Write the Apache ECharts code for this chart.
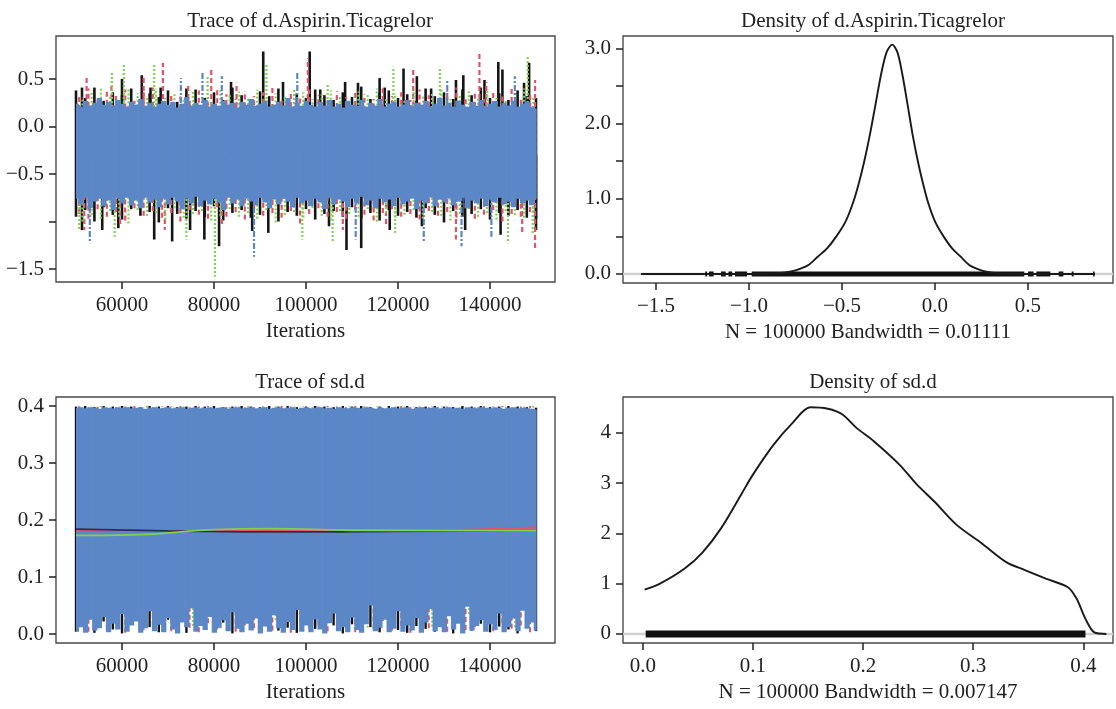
<!DOCTYPE html>
<html><head><meta charset="utf-8">
<script src="https://cdn.jsdelivr.net/npm/echarts@6/dist/echarts.min.js"></script>
<style>html,body{margin:0;padding:0;background:#fff}#c{width:1116px;height:709px}</style>
</head><body><div id="c"></div>
<script>
// ---------- DATA ----------
const ITER_FIRST = 50000, ITER_LAST = 150000, BLUE_STEP = 1000, CHAIN_STEP = 2000;
const chainStart = { black: 50000, red: 50700, green: 51400 };
const traceTicksX = [60000, 80000, 100000, 120000, 140000];

// Trace of d.Aspirin.Ticagrelor : blue chain envelope (every 1000 iterations)
const blueHi1 = [0.24,0.21,0.27,0.22,0.25,0.30,0.23,0.26,0.22,0.28,0.24,0.21,0.26,0.23,0.29,0.22,0.25,0.21,0.24,0.27,0.23,0.26,0.20,0.24,0.31,0.22,0.25,0.23,0.28,0.21,0.24,0.22,0.27,0.23,0.25,0.20,0.26,0.23,0.29,0.22,0.24,0.27,0.21,0.23,0.26,0.22,0.30,0.21,0.25,0.22,0.27,0.23,0.21,0.26,0.22,0.28,0.21,0.24,0.20,0.27,0.23,0.22,0.28,0.21,0.25,0.22,0.29,0.21,0.24,0.26,0.21,0.23,0.28,0.22,0.25,0.23,0.27,0.21,0.24,0.30,0.22,0.25,0.21,0.27,0.23,0.21,0.26,0.22,0.28,0.21,0.24,0.27,0.21,0.25,0.22,0.27,0.21,0.24,0.26,0.21,0.19];
const blueLo1 = [-0.76,-0.82,-0.75,-0.86,-0.79,-0.76,-0.84,-0.78,-0.88,-0.76,-0.81,-0.75,-0.83,-0.78,-0.86,-0.75,-0.80,-0.77,-0.85,-0.76,-0.82,-0.75,-0.79,-0.87,-0.76,-0.81,-0.74,-0.84,-0.78,-0.82,-0.76,-0.80,-0.88,-0.75,-0.81,-0.77,-0.84,-0.76,-0.79,-0.83,-0.75,-0.80,-0.86,-0.77,-0.82,-0.76,-0.79,-0.85,-0.75,-0.81,-0.78,-0.84,-0.76,-0.80,-0.87,-0.75,-0.82,-0.77,-0.79,-0.85,-0.76,-0.81,-0.74,-0.83,-0.78,-0.86,-0.76,-0.80,-0.77,-0.84,-0.75,-0.82,-0.79,-0.76,-0.87,-0.78,-0.81,-0.75,-0.84,-0.77,-0.80,-0.76,-0.83,-0.79,-0.75,-0.86,-0.78,-0.81,-0.76,-0.84,-0.77,-0.80,-0.75,-0.82,-0.79,-0.85,-0.76,-0.81,-0.78,-0.83,-0.76];
// other chains (every 2000 iterations)
const blackHi1 = [0.38,0.30,0.41,0.27,0.36,0.33,0.40,0.29,0.35,0.31,0.38,0.26,0.34,0.39,0.30,0.36,0.28,0.41,0.33,0.29,0.37,0.32,0.40,0.27,0.35,0.30,0.39,0.33,0.28,0.36,0.31,0.42,0.29,0.35,0.38,0.30,0.34,0.27,0.40,0.32,0.36,0.29,0.39,0.33,0.41,0.30,0.35,0.28,0.38,0.32,0.30];
const blackLo1 = [-0.95,-0.88,-1.00,-0.85,-0.93,-0.98,-0.87,-0.94,-0.90,-1.01,-0.86,-0.92,-0.97,-0.89,-0.95,-0.84,-0.99,-0.91,-0.88,-0.96,-0.93,-0.86,-1.00,-0.90,-0.94,-0.87,-0.98,-0.92,-0.89,-0.95,-0.85,-0.97,-0.91,-0.99,-0.88,-0.94,-0.90,-0.96,-0.86,-0.93,-1.01,-0.89,-0.95,-0.92,-0.87,-0.98,-0.91,-0.94,-0.88,-0.96,-0.97];
const redHi1 = [0.34,0.40,0.29,0.37,0.32,0.39,0.27,0.36,0.41,0.30,0.35,0.33,0.28,0.38,0.31,0.40,0.34,0.29,0.37,0.32,0.36,0.41,0.28,0.35,0.30,0.39,0.33,0.27,0.37,0.31,0.38,0.34,0.29,0.40,0.32,0.36,0.28,0.39,0.33,0.30,0.37,0.41,0.31,0.35,0.29,0.38,0.34,0.40,0.30,0.36,0.42];
const redLo1 = [-0.92,-0.97,-0.87,-0.95,-0.90,-0.99,-0.86,-0.94,-0.89,-0.96,-0.91,-1.00,-0.88,-0.93,-0.97,-0.85,-0.95,-0.90,-0.98,-0.87,-0.94,-0.91,-0.96,-0.89,-1.02,-0.92,-0.86,-0.95,-0.90,-0.97,-0.88,-0.93,-0.99,-0.91,-0.87,-0.95,-0.92,-0.98,-0.89,-0.94,-0.90,-0.96,-0.86,-0.97,-0.93,-0.88,-1.00,-0.92,-0.95,-0.90,-0.99];
const greenHi1 = [0.31,0.37,0.42,0.33,0.28,0.39,0.35,0.30,0.40,0.32,0.36,0.29,0.38,0.34,0.27,0.41,0.33,0.37,0.30,0.39,0.28,0.35,0.32,0.40,0.36,0.29,0.34,0.38,0.31,0.27,0.37,0.33,0.40,0.30,0.35,0.28,0.39,0.32,0.36,0.41,0.29,0.34,0.37,0.31,0.38,0.33,0.27,0.36,0.40,0.32,0.35];
const greenLo1 = [-1.00,-0.93,-0.97,-0.89,-0.95,-1.02,-0.88,-0.94,-0.91,-0.98,-0.86,-0.96,-0.92,-0.89,-0.99,-0.94,-0.87,-0.95,-0.91,-0.97,-0.88,-1.01,-0.93,-0.90,-0.96,-0.86,-0.94,-0.98,-0.89,-0.92,-0.95,-0.87,-1.00,-0.91,-0.96,-0.93,-0.88,-0.97,-0.90,-0.94,-0.99,-0.92,-0.87,-0.95,-0.91,-0.98,-0.89,-0.93,-0.96,-0.90,-1.01];
// spike tips [iteration, value]
const traceCenter1 = -0.3;
const spikesBlack1 = [[51300,0.41],[60000,0.50],[64300,0.54],[66200,0.41],[68400,0.41],[74000,0.40],[83700,0.47],[90700,0.79],[95000,0.47],[100800,0.79],[103100,0.39],[108500,0.47],[111300,0.46],[116000,0.51],[117100,0.41],[121200,0.61],[124100,0.53],[127200,0.40],[132600,0.49],[134200,0.54],[138800,0.49],[141800,0.68],[142700,0.60],[147400,0.46],[148500,0.67],
  [51300,-1.09],[55700,-1.09],[59200,-1.07],[67000,-1.19],[70900,-1.21],[74800,-1.09],[77900,-1.19],[81100,-1.26],[88300,-1.10],[91800,-1.12],[105000,-1.05],[108800,-1.30],[112000,-1.28],[118200,-1.09],[125200,-1.05],[134600,-1.09],[142300,-1.14],[150000,-1.09]];
const spikesRed1 = [[52300,0.53],[57700,0.46],[64700,0.51],[68900,0.67],[74400,0.44],[79400,0.60],[84900,0.46],[100400,0.72],[123300,0.61],[137700,0.79],[139200,0.47],[149800,0.49],
  [51800,-1.09],[59600,-1.05],[69300,-1.09],[81700,-1.05],[108000,-1.09],[117400,-1.05],[132600,-1.19],[147000,-1.12],[149800,-1.28]];
const spikesGreen1 = [[57800,0.58],[60400,0.65],[67000,0.65],[78600,0.54],[91400,0.67],[104700,0.44],[119000,0.63],[129100,0.63],[148200,0.74],
  [50700,-1.09],[58400,-1.16],[74000,-1.19],[80200,-1.58],[99200,-1.19],[105800,-1.21],[119400,-1.12],[143900,-1.23],[149300,-1.14]];
const spikesBlue1 = [[72800,0.51],[77500,0.58],[81700,0.53],[98100,0.58],[130700,0.49],[145400,0.53],
  [53000,-1.23],[88700,-1.37],[110800,-1.19],[125600,-1.21],[133800,-1.26],[140300,-1.16]];

// Trace of sd.d
const blueHi3 = [0.397,0.398,0.396,0.398,0.397,0.395,0.398,0.397,0.396,0.398,0.397,0.398,0.396,0.397,0.398,0.395,0.397,0.398,0.396,0.397,0.398,0.396,0.397,0.398,0.395,0.397,0.398,0.396,0.397,0.398,0.396,0.397,0.398,0.395,0.397,0.398,0.396,0.397,0.398,0.396,0.397,0.398,0.395,0.397,0.398,0.396,0.397,0.398,0.395,0.397,0.398,0.396,0.397,0.398,0.396,0.397,0.395,0.398,0.397,0.396,0.398,0.397,0.396,0.398,0.397,0.395,0.398,0.396,0.397,0.398,0.396,0.397,0.398,0.395,0.397,0.398,0.396,0.397,0.398,0.396,0.397,0.398,0.396,0.397,0.395,0.398,0.397,0.396,0.398,0.397,0.396,0.398,0.397,0.395,0.397,0.398,0.396,0.397,0.396,0.395,0.394];
const blueLo3 = [0.004,0.012,0.002,0.025,0.006,0.01,0.03,0.003,0.018,0.008,0.035,0.004,0.015,0.022,0.002,0.01,0.04,0.005,0.016,0.003,0.028,0.008,0.001,0.02,0.012,0.045,0.004,0.014,0.007,0.03,0.002,0.011,0.024,0.005,0.038,0.009,0.003,0.018,0.006,0.027,0.001,0.013,0.004,0.033,0.01,0.002,0.021,0.007,0.042,0.004,0.015,0.003,0.026,0.008,0.001,0.019,0.036,0.005,0.012,0.003,0.029,0.007,0.002,0.017,0.05,0.005,0.011,0.025,0.003,0.009,0.04,0.004,0.015,0.006,0.028,0.002,0.02,0.044,0.005,0.012,0.003,0.031,0.008,0.018,0.001,0.048,0.006,0.014,0.024,0.004,0.017,0.007,0.036,0.003,0.012,0.027,0.005,0.041,0.009,0.02,0.006];
const blackHi3 = [0.399,0.400,0.398,0.400,0.399,0.400,0.399,0.398,0.400,0.399,0.400,0.398,0.399,0.400,0.399,0.400,0.398,0.399,0.400,0.399,0.398,0.400,0.399,0.400,0.398,0.399,0.400,0.399,0.398,0.400,0.399,0.400,0.398,0.399,0.400,0.399,0.400,0.398,0.399,0.400,0.399,0.398,0.400,0.399,0.400,0.398,0.399,0.400,0.399,0.398,0.397];
const blackLo3 = [0.004,0.015,0.002,0.022,0.008,0.001,0.018,0.006,0.012,0.003,0.025,0.007,0.002,0.016,0.01,0.004,0.02,0.001,0.013,0.008,0.003,0.019,0.006,0.011,0.002,0.024,0.009,0.004,0.015,0.001,0.017,0.005,0.012,0.003,0.021,0.007,0.002,0.014,0.009,0.004,0.02,0.001,0.011,0.006,0.018,0.003,0.013,0.008,0.001,0.016,0.005];
const redHi3 = [0.400,0.398,0.399,0.400,0.398,0.399,0.400,0.399,0.398,0.400,0.399,0.400,0.398,0.399,0.400,0.398,0.400,0.399,0.398,0.400,0.399,0.398,0.400,0.399,0.400,0.398,0.399,0.400,0.399,0.398,0.400,0.399,0.398,0.400,0.399,0.400,0.398,0.399,0.400,0.398,0.399,0.400,0.399,0.398,0.400,0.399,0.400,0.398,0.399,0.400,0.399];
const redLo3 = [0.012,0.004,0.025,0.009,0.017,0.002,0.03,0.007,0.014,0.02,0.005,0.028,0.011,0.003,0.019,0.008,0.024,0.004,0.015,0.01,0.027,0.006,0.013,0.002,0.021,0.009,0.016,0.005,0.029,0.011,0.003,0.018,0.008,0.023,0.006,0.014,0.002,0.026,0.01,0.017,0.004,0.022,0.007,0.012,0.028,0.005,0.019,0.009,0.015,0.003,0.02];
const greenHi3 = [0.390,0.399,0.400,0.398,0.399,0.400,0.398,0.400,0.399,0.398,0.400,0.399,0.398,0.400,0.399,0.398,0.400,0.399,0.400,0.398,0.399,0.400,0.398,0.399,0.400,0.399,0.398,0.400,0.399,0.400,0.398,0.399,0.400,0.398,0.399,0.400,0.399,0.398,0.400,0.399,0.398,0.400,0.399,0.400,0.398,0.399,0.400,0.398,0.399,0.400,0.398];
const greenLo3 = [0.02,0.038,0.012,0.05,0.026,0.016,0.055,0.032,0.009,0.044,0.022,0.06,0.014,0.036,0.048,0.01,0.03,0.052,0.018,0.04,0.065,0.024,0.012,0.046,0.034,0.058,0.015,0.028,0.05,0.02,0.042,0.011,0.062,0.026,0.038,0.017,0.054,0.03,0.013,0.047,0.068,0.022,0.035,0.016,0.056,0.028,0.044,0.012,0.052,0.025,0.04];
// thin per-chain lines near 0.18
const meanBlack3 = [[50000,0.184],[70000,0.181],[95000,0.179],[120000,0.180],[150000,0.181]];
const meanRed3 = [[50000,0.182],[68000,0.181],[90000,0.183],[125000,0.181],[140000,0.184],[150000,0.187]];
const meanGreen3 = [[50000,0.173],[62000,0.174],[80000,0.183],[92000,0.185],[110000,0.182],[150000,0.181]];

// Density of d.Aspirin.Ticagrelor
const dens2X = [-1.58,-1.03,-0.93,-0.83,-0.78,-0.73,-0.68,-0.63,-0.58,-0.53,-0.48,-0.44,-0.41,-0.38,-0.35,-0.32,-0.29,-0.26,-0.23,-0.202,-0.175,-0.147,-0.120,-0.092,-0.064,-0.037,0.0,0.046,0.092,0.138,0.184,0.23,0.276,0.322,0.414,0.506,0.86];
const dens2Y = [0,0.0005,0.003,0.013,0.03,0.065,0.12,0.23,0.34,0.5,0.7,0.95,1.2,1.5,1.85,2.25,2.65,2.95,3.05,2.95,2.65,2.25,1.85,1.5,1.2,0.95,0.7,0.5,0.34,0.23,0.12,0.065,0.03,0.013,0.003,0.0005,0];
const rug2 = [[-1.235,-1.225],[-1.215,-1.19],[-1.15,-1.125],[-1.11,-1.09],[-1.075,-1.01],[-0.985,0.48],[0.50,0.53],[0.545,0.62],[0.665,0.69],[0.735,0.745],[0.85,0.858]];
// Density of sd.d
const dens4X = [0.0016,0.0156,0.038,0.0545,0.071,0.09,0.1,0.119,0.136,0.152,0.168,0.181,0.194,0.21,0.233,0.249,0.265,0.285,0.308,0.33,0.347,0.366,0.386,0.394,0.402,0.41,0.421];
const dens4Y = [0.88,1.0,1.3,1.63,2.1,2.8,3.17,3.77,4.2,4.51,4.48,4.37,4.1,3.83,3.37,2.97,2.63,2.17,1.8,1.43,1.27,1.1,0.93,0.7,0.3,0.03,0];
const rug4 = [[0.0026,0.402]];

// axis extents and ticks
const X1 = [45650, 154130], Y1 = [-1.637, 0.953];
const X2 = [-1.677, 0.957], Y2 = [-0.12, 3.165];
const Y3 = [-0.0158, 0.4158];
const X4 = [-0.018, 0.427], Y4 = [-0.18, 4.714];

// ---------- CHART ----------
const FONT = "'Liberation Serif','DejaVu Serif',serif";
const FS = 21;
const COL = { black: '#151515', red: '#df536b', green: '#7fd150', blue: '#5b87c7' };
const chart = echarts.init(document.getElementById('c'), null, { renderer: 'canvas' });

function minus(s) { return s.replace('-', '\u2212'); }
const f1 = v => minus((+v).toFixed(1));
function chainData(start, step, lo, hi) {
  const out = [];
  lo.forEach((l, i) => { const x = start + i * step; if (x <= ITER_LAST) out.push([x, l, hi[i]]); });
  return out;
}
function spikeData(sp, base) { return sp.map(s => [s[0], base, s[1]]); }

function segSeries(gi, data, color, width, dash) {
  return { type: 'custom', xAxisIndex: gi, yAxisIndex: gi, data, encode: { x: 0, y: [1, 2] }, clip: true, silent: true,
    renderItem: (p, api) => {
      const x = api.value(0);
      const a = api.coord([x, api.value(1)]), b = api.coord([x, api.value(2)]);
      return { type: 'line', shape: { x1: a[0], y1: a[1], x2: b[0], y2: b[1] },
        style: { stroke: color, lineWidth: width, lineDash: dash || null } };
    } };
}
function bandSeries(gi, data, color, step) {
  return { type: 'custom', xAxisIndex: gi, yAxisIndex: gi, data, encode: { x: 0, y: [1, 2] }, clip: true, silent: true,
    renderItem: (p, api) => {
      const x = api.value(0);
      const x0 = Math.max(x - step / 2, ITER_FIRST), x1 = Math.min(x + step / 2, ITER_LAST);
      const a = api.coord([x0, api.value(2)]), b = api.coord([x1, api.value(1)]);
      return { type: 'rect', shape: { x: a[0], y: a[1], width: b[0] - a[0] + 0.7, height: b[1] - a[1] }, style: { fill: color } };
    } };
}
function rugSeries(gi, data, h) {
  return { type: 'custom', xAxisIndex: gi, yAxisIndex: gi, data, encode: { x: [0, 1] }, clip: true, silent: true,
    renderItem: (p, api) => {
      const a = api.coord([api.value(0), 0]), b = api.coord([api.value(1), 0]);
      return { type: 'rect', shape: { x: a[0], y: a[1] - h / 2, width: Math.max(b[0] - a[0], 1.3), height: h }, style: { fill: '#111' } };
    } };
}
function lineSeries(gi, data, color, width, z, smooth) {
  return { type: 'line', xAxisIndex: gi, yAxisIndex: gi, data, showSymbol: false, silent: true, z: z || 3,
    smooth: smooth === undefined ? 0.3 : smooth, lineStyle: { color, width } };
}
function xAx(gi, ext, ticks, fmt, name) {
  return { type: 'value', gridIndex: gi, min: ext[0], max: ext[1],
    axisLine: { show: false, onZero: false },
    axisTick: { show: true, length: 7, lineStyle: { color: '#222', width: 1.5 }, customValues: ticks },
    axisLabel: { customValues: ticks, formatter: fmt, fontFamily: FONT, fontSize: FS, color: '#222', margin: 13 },
    splitLine: { show: false }, name, nameLocation: 'middle', nameGap: 39,
    nameTextStyle: { fontFamily: FONT, fontSize: FS, color: '#222' } };
}
function yAx(gi, ext, ticks, labels, fmt) {
  return { type: 'value', gridIndex: gi, min: ext[0], max: ext[1],
    axisLine: { show: false, onZero: false },
    axisTick: { show: true, length: 7, lineStyle: { color: '#222', width: 1.5 }, customValues: ticks },
    axisLabel: { customValues: labels, formatter: fmt, fontFamily: FONT, fontSize: FS, color: '#222', margin: 12 },
    splitLine: { show: false } };
}
const gridStyle = { show: true, borderColor: '#4a4a4a', borderWidth: 1.4, backgroundColor: 'transparent', containLabel: false };
const titleStyle = { fontFamily: FONT, fontSize: FS, fontWeight: 'normal', color: '#222' };

const series = [];
// panel 0: trace d.Aspirin.Ticagrelor
series.push(segSeries(0, chainData(chainStart.black, CHAIN_STEP, blackLo1, blackHi1), COL.black, 2.6));
series.push(segSeries(0, spikeData(spikesBlack1, traceCenter1), COL.black, 2.6));
series.push(segSeries(0, chainData(chainStart.red, CHAIN_STEP, redLo1, redHi1), COL.red, 2.2, [5, 3]));
series.push(segSeries(0, spikeData(spikesRed1, traceCenter1), COL.red, 2.2, [5, 3]));
series.push(segSeries(0, chainData(chainStart.green, CHAIN_STEP, greenLo1, greenHi1), COL.green, 2.2, [2, 2]));
series.push(segSeries(0, spikeData(spikesGreen1, traceCenter1), COL.green, 2.2, [2, 2]));
series.push(bandSeries(0, chainData(ITER_FIRST, BLUE_STEP, blueLo1, blueHi1), COL.blue, BLUE_STEP));
series.push(segSeries(0, spikeData(spikesBlue1, traceCenter1), COL.blue, 2.2, [2, 2, 6, 2]));
// panel 2: trace sd.d
series.push(segSeries(2, chainData(chainStart.black, CHAIN_STEP, blackLo3, blackHi3), COL.black, 2.4));
series.push(segSeries(2, chainData(chainStart.red, CHAIN_STEP, redLo3, redHi3), COL.red, 2, [5, 3]));
series.push(segSeries(2, chainData(chainStart.green, CHAIN_STEP, greenLo3, greenHi3), COL.green, 2, [2, 2]));
series.push(bandSeries(2, chainData(ITER_FIRST, BLUE_STEP, blueLo3, blueHi3), COL.blue, BLUE_STEP));
series.push(lineSeries(2, meanRed3, COL.red, 2.4, 5, 0.5));
series.push(lineSeries(2, meanBlack3, '#2a2f55', 1.8, 5, 0.5));
series.push(lineSeries(2, meanGreen3, COL.green, 1.8, 5, 0.5));
// panel 1: density d.Aspirin.Ticagrelor
series.push(lineSeries(1, [[X2[0], 0], [X2[1], 0]], '#d0d0d0', 2.5, 1, false));
series.push(rugSeries(1, rug2, 5));
series.push(lineSeries(1, dens2X.map((x, i) => [x, dens2Y[i]]), '#1a1a1a', 1.9, 4, 0.3));
// panel 3: density sd.d
series.push(lineSeries(3, [[X4[0], 0], [X4[1], 0]], '#d0d0d0', 2.5, 1, false));
series.push(rugSeries(3, rug4, 7));
series.push(lineSeries(3, dens4X.map((x, i) => [x, dens4Y[i]]), '#1a1a1a', 1.9, 4, 0.3));

chart.setOption({
  animation: false,
  backgroundColor: '#fff',
  title: [
    { text: 'Trace of d.Aspirin.Ticagrelor', left: 305, top: 6, textAlign: 'center', textStyle: titleStyle },
    { text: 'Density of d.Aspirin.Ticagrelor', left: 868, top: 6, textAlign: 'center', textStyle: titleStyle },
    { text: 'Trace of sd.d', left: 305, top: 367, textAlign: 'center', textStyle: titleStyle },
    { text: 'Density of sd.d', left: 868, top: 367, textAlign: 'center', textStyle: titleStyle }
  ],
  grid: [
    Object.assign({ left: 56, top: 36, width: 499, height: 246 }, gridStyle),
    Object.assign({ left: 623, top: 36, width: 490, height: 247 }, gridStyle),
    Object.assign({ left: 56, top: 397, width: 499, height: 246 }, gridStyle),
    Object.assign({ left: 623, top: 397, width: 490, height: 246 }, gridStyle)
  ],
  xAxis: [
    xAx(0, X1, traceTicksX, v => String(v), 'Iterations'),
    xAx(1, X2, [-1.5, -1, -0.5, 0, 0.5], f1, 'N = 100000 Bandwidth = 0.01111'),
    xAx(2, X1, traceTicksX, v => String(v), 'Iterations'),
    xAx(3, X4, [0, 0.1, 0.2, 0.3, 0.4], f1, 'N = 100000 Bandwidth = 0.007147')
  ],
  yAxis: [
    yAx(0, Y1, [-1.5, -1, -0.5, 0, 0.5], [-1.5, -0.5, 0, 0.5], f1),
    yAx(1, Y2, [0, 0.5, 1, 1.5, 2, 2.5, 3], [0, 1, 2, 3], f1),
    yAx(2, Y3, [0, 0.1, 0.2, 0.3, 0.4], [0, 0.1, 0.2, 0.3, 0.4], f1),
    yAx(3, Y4, [0, 1, 2, 3, 4], [0, 1, 2, 3, 4], v => String(v))
  ],
  series
});
</script></body></html>
